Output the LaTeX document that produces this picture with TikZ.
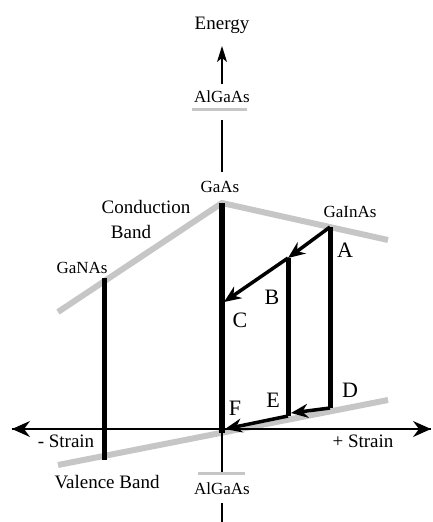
\documentclass[tikz,border=0pt]{standalone}
\usepackage{fontspec}
\setmainfont{Liberation Serif}
\usetikzlibrary{arrows.meta}
\begin{document}
\begin{tikzpicture}[x=1pt,y=-1pt,
  lbl/.style={font=\fontsize{17}{17}\selectfont, inner sep=0pt},
  big/.style={font=\fontsize{19}{19}\selectfont, inner sep=0pt},
  letter/.style={font=\fontsize{22}{22}\selectfont, inner sep=0pt},
  band/.style={draw=gray!45, line width=6pt},
  offset/.style={draw=gray!45, line width=3pt},
  bar/.style={line width=5pt},
  shiftarr/.style={line width=3.5pt, -{Stealth[length=17pt,width=14pt]}},
  axis/.style={line width=1.3pt},
]
\useasboundingbox (0,0) rectangle (432,522);
% coordinates
\coordinate (cbL) at (58,312);
\coordinate (cbP) at (222,203);
\coordinate (cbR) at (388,240);
\coordinate (vbL) at (58,465);
\coordinate (vbR) at (388,400);
\coordinate (ganT) at (104,278);
\coordinate (ganB) at (104,460);
\coordinate (gaasT) at (222,203);
\coordinate (gaasB) at (222,433);
\coordinate (aT) at (330,227);
\coordinate (dB) at (330,408);
\coordinate (bT) at (288,258);
\coordinate (eB) at (288,416);
\coordinate (cP) at (224,302);
\coordinate (fP) at (225,429);
\coordinate (eTip) at (291,413);
\coordinate (enTop) at (222,46);
\coordinate (enBot) at (222,84);
\coordinate (gU1) at (222,120);
\coordinate (gU2) at (222,172);
\coordinate (gL1) at (222,433);
\coordinate (gL2) at (222,472);
\coordinate (gB1) at (222,503);
\coordinate (gB2) at (222,522);
\coordinate (offTL) at (192,109);
\coordinate (offTR) at (247,109);
\coordinate (offBL) at (198,473);
\coordinate (offBR) at (245,473);
\coordinate (axL) at (12,429);
\coordinate (axR) at (431,429);
% bands
\draw[band] (cbL) -- (cbP) -- (cbR);
\draw[band] (vbL) -- (vbR);
\draw[offset] (offTL) -- (offTR);
\draw[offset] (offBL) -- (offBR);
% axes
\draw[axis, -{Stealth[length=18pt,width=16pt,inset=6pt]}] (axR) -- (axL);
\draw[axis, -{Stealth[length=18pt,width=16pt,inset=6pt]}] (axL) -- (axR);
\draw[axis, -{Stealth[length=16pt,width=10pt,inset=4pt]}] (enBot) -- (enTop);
\draw[axis] (gU1) -- (gU2);
\draw[axis] (gL1) -- (gL2);
\draw[axis] (gB1) -- (gB2);
% bars
\draw[bar] (ganT) -- (ganB);
\draw[line width=6pt] (gaasT) -- (gaasB);
\draw[bar] (aT) -- (dB);
\draw[bar] (bT) -- (eB);
% shifts
\draw[shiftarr] (aT) -- (bT);
\draw[shiftarr] (bT) -- (cP);
\draw[shiftarr] (dB) -- (eTip);
\draw[shiftarr] (eB) -- (fP);
% labels
\node[big] (energy) at (222,25) {Energy};
\node[lbl] (algaasT) at (222,97) {AlGaAs};
\node[lbl] (gaas) at (220,187) {GaAs};
\node[big] (cond) at (146,207) {Conduction};
\node[big] (condb) at (131,232) {Band};
\node[lbl] (ganas) at (82,268) {GaNAs};
\node[lbl] (gainas) at (350,212) {GaInAs};
\node[letter] (la) at (345,250) {A};
\node[letter] (lb) at (272,297) {B};
\node[letter] (lc) at (240,320) {C};
\node[letter] (ld) at (350,390) {D};
\node[letter] (le) at (273,400) {E};
\node[letter] (lf) at (235,408) {F};
\node[big] (mstrain) at (66,441) {- Strain};
\node[big] (pstrain) at (363,441) {+ Strain};
\node[big] (val) at (107,482) {Valence Band};
\node[lbl] (algaasB) at (222,489) {AlGaAs};
\end{tikzpicture}
\end{document}
